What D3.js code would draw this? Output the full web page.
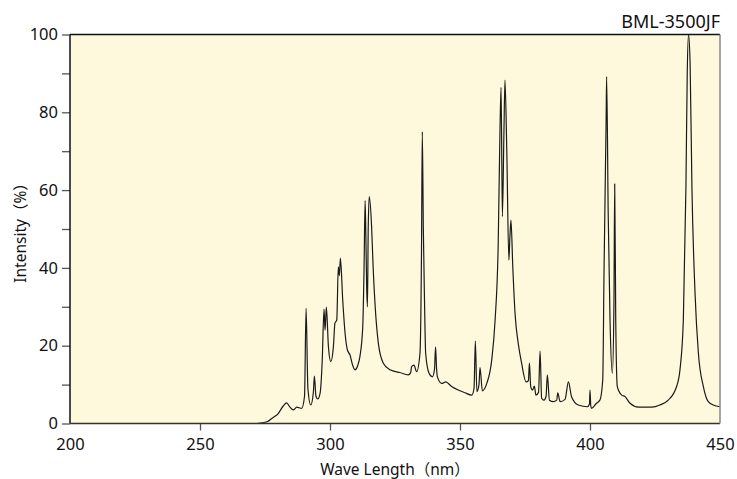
<!DOCTYPE html>
<html><head><meta charset="utf-8">
<script src="https://cdn.jsdelivr.net/npm/d3@7"></script>
<style>body{margin:0;background:#fff}svg{display:block}</style>
</head><body>
<script>
const title = "BML-3500JF";
const xLabel = "Wave Length（nm）";
const yLabel = "Intensity（%）";
const xTicks = [200, 250, 300, 350, 400, 450];
const yTicks = [0, 10, 20, 30, 40, 50, 60, 70, 80, 90, 100];
const wavelength = [272,274,276,278,280,282,283.3,284.6,285.9,287.2,289.1,290.2,290.8,291.5,292.6,293.6,294,294.6,295.3,296.2,297,297.7,298.1,298.6,299.4,300.3,301.3,301.9,302.6,303.2,303.6,304,304.9,305.8,306.7,307.7,308.7,309.6,310.6,311.5,312.6,313.1,313.5,313.8,314.1,314.4,314.7,315.1,316,316.6,317.3,318.6,320.5,323.1,326.9,330.1,331,331.4,332.3,333.3,334.6,335.2,335.5,335.9,336.3,336.8,338.1,339.4,340.2,340.6,341,341.3,343,344.5,346.8,349.3,351.9,354.5,355.4,355.9,356.5,357.3,357.7,358.6,360.3,362.2,363.5,364.7,365.4,365.8,366.3,366.9,367.3,368,368.8,369.2,369.6,370.3,371.2,372.4,373.7,375.4,376.3,376.7,377.2,377.9,378.6,379.2,380.2,380.8,381.4,382.3,383.1,383.6,384.4,385.9,387.2,387.6,388.5,390.4,391.7,392.9,395.5,399,399.8,400,400.3,400.6,402.5,403.8,404.9,405.4,406.2,406.4,407,407.7,408.6,409.2,409.5,409.9,410.5,412.2,413.5,415.4,418.6,423.7,426.9,430.1,433.3,434.6,435.9,436.9,437.4,437.9,438.5,439.2,440.4,441.7,443.6,445.5,447.4,450];
const intensity = [0,0.2,0.5,1.5,2.5,4.5,5.3,4.2,3.5,4.2,3.9,7,29.6,9,4.75,8,12.2,7,6.3,7.8,16,29.4,24,29.9,19.7,15.9,19.7,25.8,26.6,40.3,38,42.5,31.7,23.2,18.9,17.6,15,13.8,14.8,17.2,24.9,40,57.3,48,35.2,30,50,58.3,50.6,40,30.9,20.6,15.5,13.8,13.1,12.5,13,14.6,15,13.3,18,45,75,50,33.5,18,12.9,12,14,19.7,14,12,10.3,10.7,9.5,8.6,7.9,7.3,9,21.2,8.2,10,14.4,8.4,10.3,16.3,26.6,46.3,76.3,86.4,53.2,75,88.3,70,42,48,52.3,40.3,28,20.6,15.5,10.7,11,15.5,9.5,8.6,9.6,7.3,8,18.6,6.5,6,7,12.5,6,5.6,6,7.9,5.6,6.2,10.7,6.9,4.75,4.3,5,8.6,4.5,3.9,5.2,6,11.2,39.5,78,89.2,54,26.6,12.9,30,61.6,26.6,9.5,7.3,6.9,5.2,4.2,4.2,4.75,6,9.5,13.8,26.6,60.9,90,100,92.6,60.9,33.5,18,9.5,5.6,4.75,4.3];

const W = 737, H = 479;
const m = {l: 70, r: 17, t: 34.5, b: 55.5};
const svg = d3.select("body").append("svg").attr("width", W).attr("height", H);
const font = "'Noto Sans', 'Noto Sans CJK JP', sans-serif";

const x = d3.scaleLinear().domain([200, 450]).range([m.l, W - m.r]);
const y = d3.scaleLinear().domain([0, 100]).range([H - m.b, m.t]);

svg.append("rect").attr("x", x(200)).attr("y", y(100))
  .attr("width", x(450) - x(200)).attr("height", y(0) - y(100))
  .attr("fill", "#fef9dc");

// y axis
const ya = svg.append("g").attr("transform", `translate(${x(200)},0)`)
  .call(d3.axisLeft(y).tickValues(yTicks).tickSize(8).tickPadding(4)
    .tickFormat(d => d % 20 === 0 ? d : ""));
ya.select(".domain").remove();
ya.selectAll(".tick line").attr("stroke", "#555").attr("stroke-width", 1.3);
ya.selectAll(".tick text").attr("font-family", font).attr("font-size", 16.5).attr("fill", "#111");

// x axis
const xa = svg.append("g").attr("transform", `translate(0,${y(0)})`)
  .call(d3.axisBottom(x).tickValues(xTicks).tickSize(7).tickPadding(8));
xa.select(".domain").remove();
xa.selectAll(".tick line").attr("stroke", "#555").attr("stroke-width", 1.3)
  .attr("opacity", d => (d === 200 || d === 450) ? 0 : 1);
xa.selectAll(".tick text").attr("font-family", font).attr("font-size", 16.5).attr("fill", "#111");

// spectrum
const pts = wavelength.map((w, i) => [w, intensity[i]]);
const clipId = "plotclip";
svg.append("clipPath").attr("id", clipId).append("rect")
  .attr("x", x(200)).attr("y", y(100) - 1).attr("width", x(450) - x(200)).attr("height", y(0) - y(100) + 1);
svg.append("path").datum(pts)
  .attr("clip-path", `url(#${clipId})`)
  .attr("fill", "none").attr("stroke", "#1a1a1a").attr("stroke-width", 1.2)
  .attr("stroke-linejoin", "round")
  .attr("d", d3.line().curve(d3.curveMonotoneX).x(d => x(d[0])).y(d => y(d[1])));

// frame
const fr = svg.append("g");
fr.append("line").attr("x1", x(200)).attr("x2", x(450)).attr("y1", y(100)).attr("y2", y(100)).attr("stroke", "#111").attr("stroke-width", 1.5);
fr.append("line").attr("x1", x(200)).attr("x2", x(200)).attr("y1", y(100)).attr("y2", y(0)).attr("stroke", "#111").attr("stroke-width", 1.5);
fr.append("line").attr("x1", x(200)).attr("x2", x(450)).attr("y1", y(0)).attr("y2", y(0)).attr("stroke", "#333").attr("stroke-width", 1.5);
fr.append("line").attr("x1", x(450)).attr("x2", x(450)).attr("y1", y(100)).attr("y2", y(0)).attr("stroke", "#888").attr("stroke-width", 1.5);

// texts
svg.append("text").attr("x", x(450)).attr("y", 28).attr("text-anchor", "end")
  .attr("font-family", font).attr("font-size", 18).attr("fill", "#111").text(title);
svg.append("text").attr("x", (x(200) + x(450)) / 2).attr("y", 475).attr("text-anchor", "middle")
  .attr("font-family", font).attr("font-size", 15.5).attr("fill", "#111").text(xLabel);
svg.append("text").attr("transform", `translate(26,${(y(0) + y(100)) / 2}) rotate(-90)`)
  .attr("text-anchor", "middle")
  .attr("font-family", font).attr("font-size", 15.5).attr("fill", "#111").text(yLabel);
</script>
</body></html>
